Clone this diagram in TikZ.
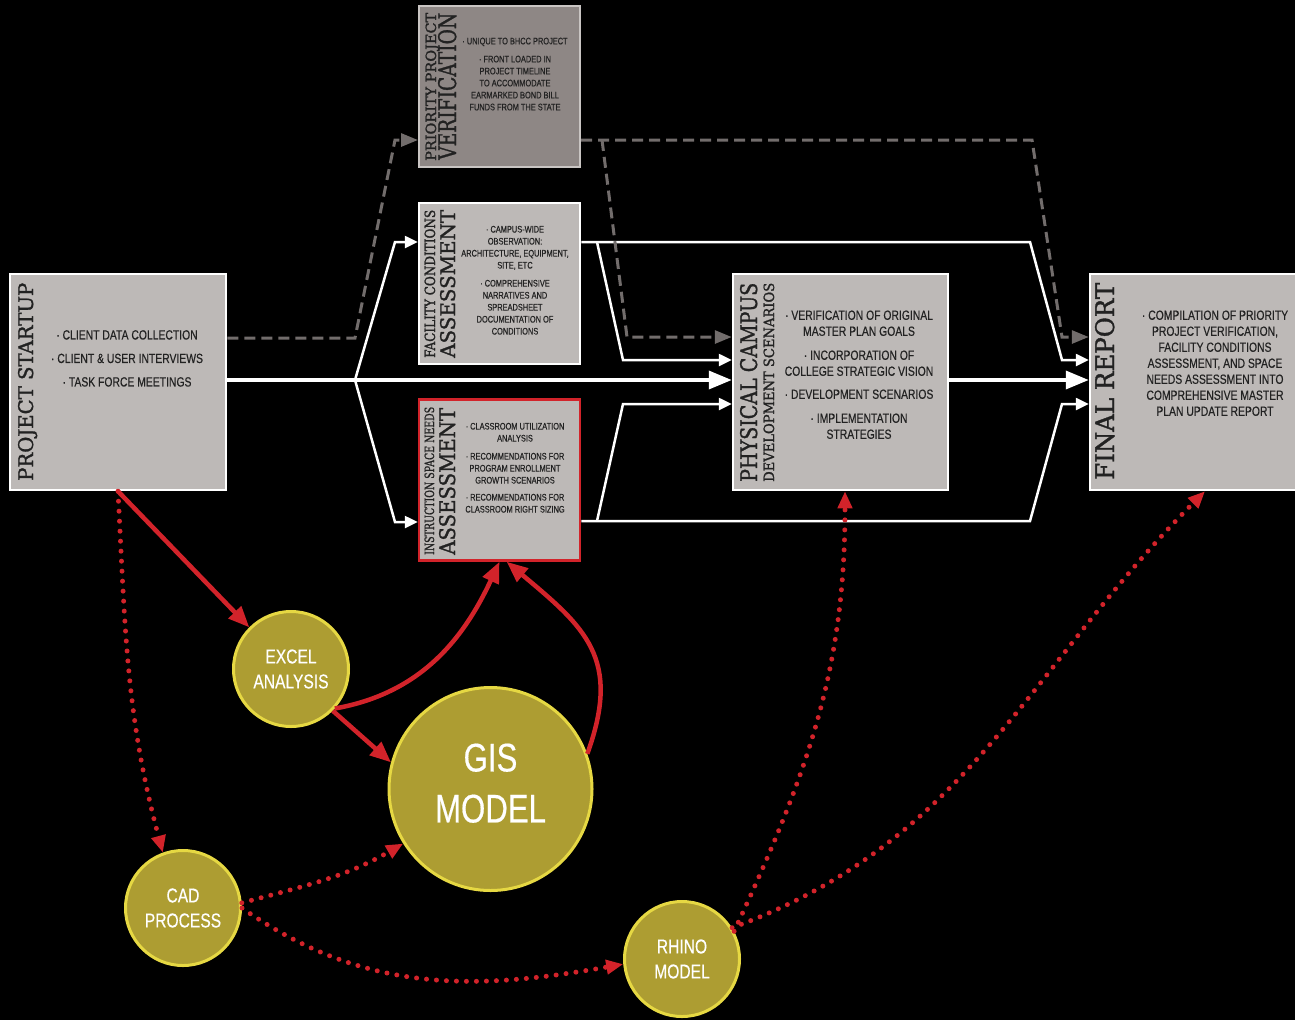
\documentclass[tikz,border=0pt]{standalone}
\usepackage{fontspec}
\setmainfont{Liberation Sans}
\newfontfamily\condfont[FakeStretch=0.78, FakeBold=0.4]{Liberation Sans}
\newfontfamily\slabfont[FakeStretch=0.8, FakeBold=1.2]{DejaVu Serif}
\usetikzlibrary{arrows.meta}

\definecolor{boxgray}{HTML}{BDB9B7}
\definecolor{darkbox}{HTML}{8E8785}
\definecolor{darkedge}{HTML}{C9C5C3}
\definecolor{dashgray}{HTML}{726D6C}
\definecolor{linkred}{HTML}{D2232A}
\definecolor{olive}{HTML}{AD9D32}
\definecolor{lemon}{HTML}{E6D843}
\definecolor{inkgray}{HTML}{222222}

% rotated box titles, squeezed to a given length and cap height
\newcommand{\ttl}[3]{\resizebox{#1}{#2}{\slabfont #3}}

\tikzset{
  stage/.style={draw=white, line width=2.5pt, fill=boxgray, minimum width=216pt, minimum height=216pt, inner sep=0pt},
  substage/.style={stage, minimum width=161pt, minimum height=161pt},
  ttlnode/.style={rotate=90, anchor=base west, inner sep=0pt, text=inkgray},
  bignote/.style={align=center, anchor=north, inner sep=0pt, text=inkgray, font=\condfont\fontsize{13.3pt}{16pt}\selectfont},
  smallnote/.style={align=center, anchor=north, inner sep=0pt, text=inkgray, font=\condfont\fontsize{9.5pt}{12pt}\selectfont},
  tool/.style={circle, draw=lemon, line width=3pt, fill=olive, text=white, align=center, inner sep=0pt, minimum size=#1, font=\condfont\fontsize{20pt}{25pt}\selectfont},
  trunk/.style={draw=white, line width=3.5pt, -{Triangle[length=23pt,width=18pt]}},
  wire/.style={draw=white, line width=2.5pt, -{Triangle[length=13pt,width=12pt]}},
  graylink/.style={draw=dashgray, line width=3pt, dash pattern=on 11pt off 6pt, -{Triangle[length=17pt,width=13pt]}},
  redlink/.style={draw=linkred, line width=4.5pt, -{Triangle[length=21pt,width=17pt]}},
  reddots/.style={draw=linkred, line width=5pt, line cap=round, dash pattern=on 0pt off 10pt, -{Triangle[length=17pt,width=14pt]}}
}

\begin{document}
\begin{tikzpicture}[x=1pt, y=-1pt]
\useasboundingbox (0,0) rectangle (1295,1020);
\fill[black] (0,0) rectangle (1295,1020);

% stages
\node[stage] (startup) at (118,382) {};
\node[substage, fill=darkbox, draw=darkedge, line width=2pt] (priority) at (499.5,86.5) {};
\node[substage] (facility) at (499.5,283.5) {};
\node[substage, draw=linkred] (space) at (499.5,480) {};
\node[stage, minimum width=215pt] (campus) at (840.5,382) {};
\node[stage, minimum width=220pt] (report) at (1200,382) {};

% titles
\node[ttlnode] (startup-ttl) at (33,481) {\ttl{198pt}{15pt}{PROJECT STARTUP}};
\node[ttlnode] (priority-ttl) at (436,161) {\ttl{148pt}{10.5pt}{PRIORITY PROJECT}};
\node[ttlnode] (priority-ttl2) at (456,160) {\ttl{147pt}{18pt}{VERIFICATION}};
\node[ttlnode] (facility-ttl) at (435,358) {\ttl{148pt}{10.5pt}{FACILITY CONDITIONS}};
\node[ttlnode] (facility-ttl2) at (455,358) {\ttl{148pt}{15pt}{ASSESSMENT}};
\node[ttlnode] (space-ttl) at (434,555) {\ttl{148pt}{9.5pt}{INSTRUCTION SPACE NEEDS}};
\node[ttlnode] (space-ttl2) at (455,555) {\ttl{147pt}{16pt}{ASSESSMENT}};
\node[ttlnode] (campus-ttl) at (757,482) {\ttl{199pt}{17pt}{PHYSICAL CAMPUS}};
\node[ttlnode] (campus-ttl2) at (774,482) {\ttl{199pt}{10.5pt}{DEVELOPMENT SCENARIOS}};
\node[ttlnode] (report-ttl) at (1114,480) {\ttl{197pt}{19pt}{FINAL REPORT}};

% notes
\node[bignote] (startup-txt) at (127,330) {· CLIENT DATA COLLECTION\\[7.5pt]· CLIENT \& USER INTERVIEWS\\[7.5pt]· TASK FORCE MEETINGS};
\node[smallnote] (priority-txt) at (515,37.5) {· UNIQUE TO BHCC PROJECT\\[6pt]· FRONT LOADED IN\\PROJECT TIMELINE\\TO ACCOMMODATE\\EARMARKED BOND BILL\\FUNDS FROM THE STATE};
\node[smallnote] (facility-txt) at (515,225.7) {· CAMPUS-WIDE\\OBSERVATION:\\ARCHITECTURE, EQUIPMENT,\\SITE, ETC\\[6pt]· COMPREHENSIVE\\NARRATIVES AND\\SPREADSHEET\\DOCUMENTATION OF\\CONDITIONS};
\node[smallnote] (space-txt) at (515,422.7) {· CLASSROOM UTILIZATION\\ANALYSIS\\[6pt]· RECOMMENDATIONS FOR\\PROGRAM ENROLLMENT\\GROWTH SCENARIOS\\[5pt]· RECOMMENDATIONS FOR\\CLASSROOM RIGHT SIZING};
\node[bignote] (campus-txt) at (859,310.3) {· VERIFICATION OF ORIGINAL\\MASTER PLAN GOALS\\[8pt]· INCORPORATION OF\\COLLEGE STRATEGIC VISION\\[7pt]· DEVELOPMENT SCENARIOS\\[8pt]· IMPLEMENTATION\\STRATEGIES};
\node[bignote] (report-txt) at (1215,310.3) {· COMPILATION OF PRIORITY\\PROJECT VERIFICATION,\\FACILITY CONDITIONS\\ASSESSMENT, AND SPACE\\NEEDS ASSESSMENT INTO\\COMPREHENSIVE MASTER\\PLAN UPDATE REPORT};

% tools
\node[tool=115pt] (excel) at (291,669) {EXCEL\\ANALYSIS};
\node[tool=203pt, text depth=12pt, font=\condfont\fontsize{40pt}{51pt}\selectfont] (gis) at (490.5,789) {GIS\\MODEL};
\node[tool=115pt] (cad) at (183,908) {CAD\\PROCESS};
\node[tool=115pt] (rhino) at (682,959) {RHINO\\MODEL};

% white flow
\coordinate (split) at (355,380);
\coordinate (fa-up) at (395,242);
\coordinate (sp-dn) at (395,522);
\draw[trunk] (startup.east |- split) -- (campus.west |- split);
\draw[trunk] (campus.east |- split) -- (report.west |- split);
\draw[wire] (split) -- (fa-up) -- (fa-up -| facility.west);
\draw[wire] (split) -- (sp-dn) -- (sp-dn -| space.west);
\coordinate (fa-hi) at (1030,242);
\coordinate (fa-rep) at (1062,360);
\coordinate (fa-fork) at (597,242);
\coordinate (fa-cam) at (623,360);
\draw[wire] (fa-up -| facility.east) -- (fa-hi) -- (fa-rep) -- (fa-rep -| report.west);
\draw[wire] (fa-fork) -- (fa-cam) -- (fa-cam -| campus.west);
\coordinate (sp-lo) at (1030,521);
\coordinate (sp-rep) at (1062,404);
\coordinate (sp-fork) at (597,521);
\coordinate (sp-cam) at (623,404);
\draw[wire] (sp-lo -| space.east) -- (sp-lo) -- (sp-rep) -- (sp-rep -| report.west);
\draw[wire] (sp-fork) -- (sp-cam) -- (sp-cam -| campus.west);

% gray dashed flow
\coordinate (dsplit) at (355,338);
\coordinate (pr-up) at (395,140);
\draw[graylink] (startup.east |- dsplit) -- (dsplit) -- (pr-up) -- (pr-up -| priority.west);
\coordinate (pr-hi) at (1032,140);
\coordinate (pr-rep) at (1062,337);
\coordinate (pr-fork) at (602,140);
\coordinate (pr-cam) at (627,337);
\draw[graylink] (pr-up -| priority.east) -- (pr-hi) -- (pr-rep) -- (pr-rep -| report.west);
\draw[graylink] (pr-fork) -- (pr-cam) -- (pr-cam -| campus.west);

% red tool links
\draw[redlink] (startup.south) -- (excel.135);
\draw[redlink] (excel.-45) -- (gis.165);
\draw[redlink] (excel.-42) to[out=10,in=-115] (space.south);
\draw[redlink] (gis.20) to[out=70,in=-40,looseness=1.25] (space.-85);
\draw[reddots] (startup.south) to[out=-87,in=105] (cad.110);
\draw[reddots] (cad.5) to[out=15,in=-150] (gis.212);
\draw[reddots] (cad.0) to[out=-35,in=190] (rhino.185);
\draw[reddots] (rhino.28) to[out=65,in=-90] ([xshift=4.5pt]campus.south);
\draw[reddots] (rhino.32) to[out=20,in=-135] ([xshift=5pt]report.south);
\end{tikzpicture}
\end{document}
